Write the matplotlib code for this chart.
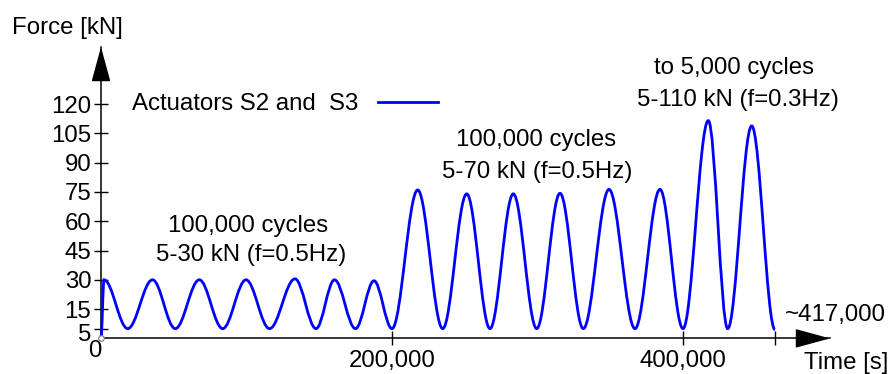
import matplotlib
matplotlib.use("Agg")
import matplotlib.pyplot as plt
from matplotlib.path import Path
from matplotlib.patches import PathPatch
from matplotlib.transforms import ScaledTranslation

plt.rcParams['font.family'] = ['Liberation Sans', 'DejaVu Sans']

# extrema of the loading history (time in s, force in kN)
temps = [0, 2060, 18350, 35400, 51060, 67560, 83640, 99660, 115810, 133330,
         147770, 160480, 174910, 187630, 200000,
         217660, 234850, 251340, 267350, 283370, 299450, 315460, 331480,
         349140, 367010, 384190, 400000,
         417390, 430720, 447220, 463230]
force = [0, 30, 5, 30, 5, 30, 5, 30, 5, 30.5,
         5, 30, 5, 29.5, 5,
         76, 5, 74, 5, 74, 5, 74.3, 5,
         76.3, 5, 76.3, 5,
         111.5, 5, 108.8, 4.5]

y_ticks = [5, 15, 30, 45, 60, 75, 90, 105, 120]
x_ticks = [200000, 400000, 463230]
x_labels = ['200,000', '400,000', '']

fig = plt.figure(figsize=(8.91, 3.74), dpi=100)
ax = fig.add_axes([101/891, (374-338.4)/374, (830-101)/891, (338.4-47)/374])
ax.set_xlim(0, 501035)
ax.set_ylim(0, 149.2)
ax.patch.set_visible(False)

# smooth curve: cubic segments with flat tangents at each peak / trough
verts = [(temps[0], force[0])]
codes = [Path.MOVETO]
a = 0.36
for i in range(1, len(temps)):
    dx = temps[i] - temps[i-1]
    verts += [(temps[i-1] + a*dx, force[i-1]), (temps[i] - a*dx, force[i]), (temps[i], force[i])]
    codes += [Path.CURVE4] * 3
ax.add_patch(PathPatch(Path(verts, codes), facecolor='none', edgecolor='#0000ff', lw=2.0,
                       clip_on=False, zorder=3))
ax.plot([0], [0], 'o', ms=4, mfc='white', mec='#777777', mew=0.8, zorder=4, clip_on=False)

for s in ['top', 'right']:
    ax.spines[s].set_visible(False)
for s in ['left', 'bottom']:
    ax.spines[s].set_linewidth(1.1)

fs = 17.3

ax.set_yticks(y_ticks)
ax.set_yticklabels([str(v) for v in y_ticks])
ax.set_xticks(x_ticks)
ax.set_xticklabels(x_labels)
ax.tick_params(direction='inout', length=10, width=1.0, labelsize=fs, pad=2)
ax.tick_params(axis='x', pad=3)

# the "5" label sits a little below its tick
lbl5 = ax.get_yticklabels()[0]
lbl5.set_transform(lbl5.get_transform() + ScaledTranslation(0, -0.04, fig.dpi_scale_trans))

# arrow heads
ax.annotate('', xy=(1, 0), xycoords='axes fraction', xytext=(1 - 31/729, 0),
            arrowprops=dict(arrowstyle='-|>,head_length=22,head_width=6', mutation_scale=1,
                            color='black', lw=1.1, shrinkA=0, shrinkB=0))
ax.annotate('', xy=(0, 1), xycoords='axes fraction', xytext=(0, 1 - 30/291.4),
            arrowprops=dict(arrowstyle='-|>,head_length=22,head_width=6', mutation_scale=1,
                            color='black', lw=1.1, shrinkA=0, shrinkB=0))

ax.text(-61170, 158.9, 'Force [kN]', fontsize=fs, ha='left', va='center')
ax.text(483160, -12.4, 'Time [s]', fontsize=fs, ha='left', va='center')
ax.text(470110, 12.0, '~417,000', fontsize=fs, ha='left', va='center')
ax.text(-4124, -6.5, '0', fontsize=fs, ha='center', va='center')

ax.text(101031, 57.6, '100,000 cycles', fontsize=fs, ha='center', va='center')
ax.text(103440, 42.7, '5-30 kN (f=0.5Hz)', fontsize=fs, ha='center', va='center')
ax.text(298970, 101.6, '100,000 cycles', fontsize=fs, ha='center', va='center')
ax.text(299450, 85.4, '5-70 kN (f=0.5Hz)', fontsize=fs, ha='center', va='center')
ax.text(435050, 138.4, 'to 5,000 cycles', fontsize=fs, ha='center', va='center')
ax.text(437460, 122.1, '5-110 kN (f=0.3Hz)', fontsize=fs, ha='center', va='center')

line, = ax.plot([], [], color='#0000ff', lw=2.0, label='Actuators S2 and  S3')
ax.legend(handles=[line], loc='center left', bbox_to_anchor=(132/891, 1 - 104/374),
          bbox_transform=fig.transFigure, markerfirst=False, frameon=False,
          fontsize=fs, handlelength=2.49, handletextpad=0.83, borderpad=0, borderaxespad=0)

fig.savefig('out.png', dpi=100)
